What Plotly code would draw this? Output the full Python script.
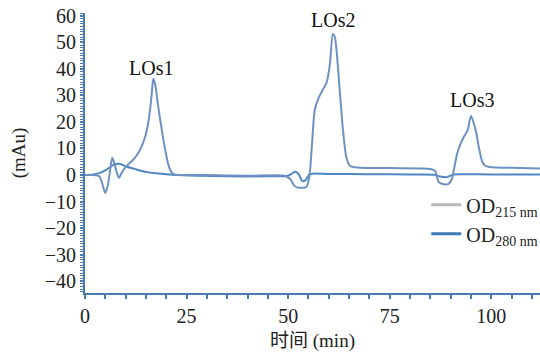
import plotly.graph_objects as go

# Chromatogram traces: elution time (min) vs absorbance (mAu)
time_215 = [0, 2, 3.5, 4.3, 5.0, 5.6, 6.2, 6.7, 7.3, 7.9, 8.4, 9.0, 10, 11, 12, 13, 14, 15,
            15.8, 16.4, 16.8, 17.3, 18.0, 18.9, 19.8, 20.5, 21.3, 22, 23, 30, 40, 49, 50.5,
            51.5, 52.5, 53.5, 54.5, 55.2, 55.8, 56.6, 57.5, 58.5, 59.5, 60.3, 61.0, 61.5,
            62.2, 62.8, 63.5, 64.3, 65.2, 67, 75, 85, 86.2, 87, 88, 89.5, 90.3, 90.8, 91.6,
            92.5, 93.3, 94.2, 95.0, 95.6, 96.3, 97.0, 97.8, 98.5, 99.5, 101, 105, 112]
od_215 = [0, 0, -0.5, -3.5, -6.8, -4, 2, 6.5, 4, 0.5, -1.1, 0.8, 3.0, 4.5, 6, 8, 11, 15.5,
          22, 30, 36.3, 34, 26, 17, 9, 4, 1, 0.2, 0, 0, -0.3, -0.3, -1.5,
          -4, -4.8, -4.8, -4.5, -1, 10, 25, 29, 32, 35, 42, 53.2, 52,
          42, 30, 17, 7, 3.5, 2.8, 2.6, 2.3, 1.5, -2.5, -3.4, -3.3, -1.5, 2, 8,
          12, 14.5, 17, 22.3, 20, 16, 10, 5, 3.5, 3, 2.8, 2.7, 2.5]

time_280 = [0, 2, 4, 5.5, 7, 8.5, 10, 12, 14, 16, 18, 20, 23, 28, 35, 45, 50, 51, 51.8,
            52.6, 53.5, 54.3, 55.2, 56, 60, 70, 80, 86, 87.5, 89, 90.5, 92, 100, 112]
od_280 = [0, 0.2, 1.0, 2.2, 3.8, 4.2, 3.3, 2.4, 1.5, 0.9, 0.6, 0.3, 0, -0.3, -0.5, -0.5,
          -0.3, 0.6, 1.2, 0.3, -2.3, -2.0, 0.2, 0.5, 0.4, 0.3, 0.2, 0.1, -0.6, -0.8,
          0.1, 0.3, 0.2, 0.2]

peak_names = ["LOs1", "LOs2", "LOs3"]
peak_times = [16.3, 61.1, 95.3]
peak_label_y = [40.4, 58.3, 28.3]

legend_names = ["OD<sub>215 nm</sub>", "OD<sub>280 nm</sub>"]

axis_blue = "#4a7aae"
serif = "'Liberation Serif', 'DejaVu Serif', 'Noto Sans CJK SC', serif"

fig = go.Figure()
fig.add_trace(go.Scatter(x=time_280, y=od_280, mode="lines", showlegend=False,
                         line=dict(color="#4f86c2", width=2, shape="spline", smoothing=0.7)))
fig.add_trace(go.Scatter(x=time_215, y=od_215, mode="lines", showlegend=False,
                         line=dict(color="#6d92c2", width=2, shape="spline", smoothing=0.7)))

# legend swatches
fig.add_trace(go.Scatter(x=[None], y=[None], mode="lines", name=legend_names[0],
                         line=dict(color="#b9b9b9", width=3)))
fig.add_trace(go.Scatter(x=[None], y=[None], mode="lines", name=legend_names[1],
                         line=dict(color="#3f7ab5", width=3)))

for name, t, y in zip(peak_names, peak_times, peak_label_y):
    fig.add_annotation(x=t, y=y, text=name, showarrow=False, yanchor="middle",
                       font=dict(family=serif, size=20, color="#111"))

fig.update_layout(
    width=540, height=354,
    margin=dict(l=85, r=0, t=13, b=61, autoexpand=False),
    paper_bgcolor="white", plot_bgcolor="white",
    font=dict(family=serif, size=19, color="#222"),
    legend=dict(x=0.75, y=0.385, xanchor="left", yanchor="top",
                bgcolor="rgba(0,0,0,0)", font=dict(family=serif, size=20),
                itemwidth=30, tracegroupgap=0),
)
fig.update_xaxes(
    range=[0, 112], showgrid=False, zeroline=False,
    showline=True, linecolor=axis_blue, linewidth=2,
    ticks="outside", tickcolor=axis_blue, ticklen=4, tickwidth=1.5,
    tick0=0, dtick=25,
    minor=dict(ticks="outside", dtick=5, ticklen=4, tickcolor=axis_blue, tickwidth=1.5),
    tickfont=dict(family=serif, size=20, color="#222"),
    title=dict(text="时间 (min)", font=dict(family=serif, size=19, color="#222"), standoff=8),
)
fig.update_yaxes(
    range=[-44.5, 61.1], showgrid=False, zeroline=False,
    showline=True, linecolor=axis_blue, linewidth=2,
    ticks="outside", tickcolor=axis_blue, ticklen=3, tickwidth=1.5,
    tick0=0, dtick=10,
    minor=dict(ticks="outside", dtick=1, ticklen=3, tickcolor=axis_blue, tickwidth=1),
    tickfont=dict(family=serif, size=20, color="#222"),
    title=dict(text="(mAu)", font=dict(family=serif, size=19, color="#222"), standoff=14),
)

fig.write_html("out.html")
